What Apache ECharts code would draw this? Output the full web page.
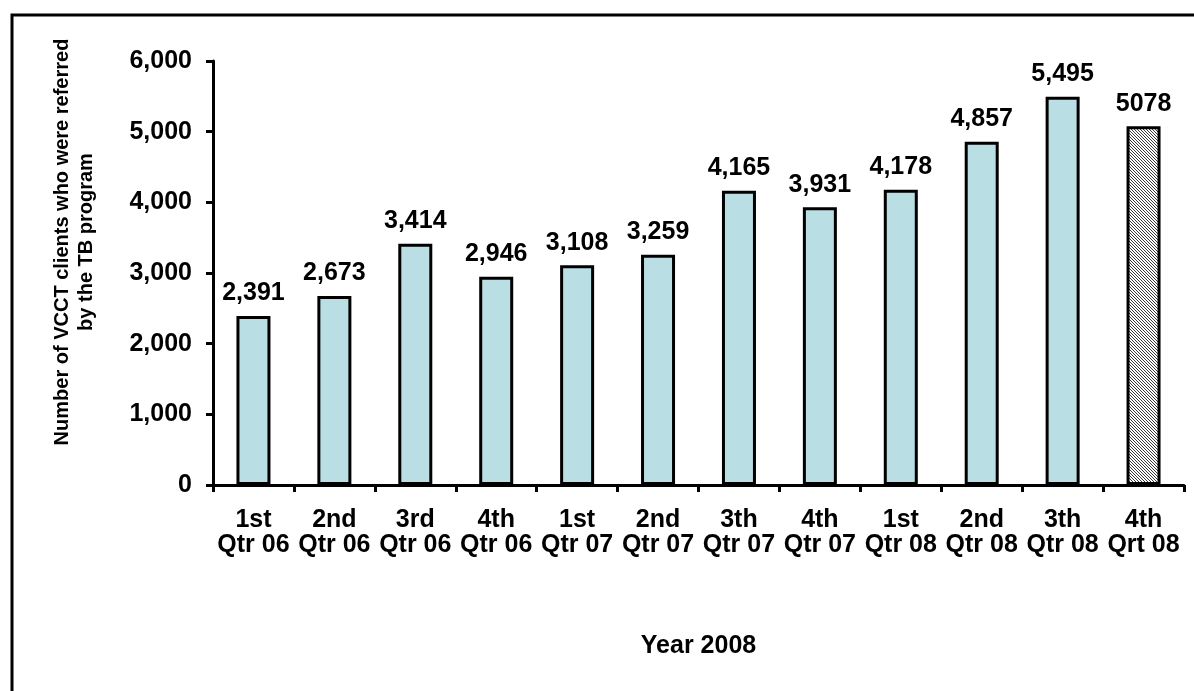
<!DOCTYPE html>
<html>
<head>
<meta charset="utf-8">
<style>
  html, body { margin: 0; padding: 0; background: #fff; }
  #chart { width: 1194px; height: 691px; }
</style>
<script src="https://cdn.jsdelivr.net/npm/echarts@6/dist/echarts.min.js"></script>
</head>
<body>
<div id="chart"></div>
<script>
// Quarterly counts of VCCT clients referred by the TB program
const quarters = ['1st\nQtr 06', '2nd\nQtr 06', '3rd\nQtr 06', '4th\nQtr 06',
                  '1st\nQtr 07', '2nd\nQtr 07', '3th\nQtr 07', '4th\nQtr 07',
                  '1st\nQtr 08', '2nd\nQtr 08', '3th\nQtr 08', '4th\nQrt 08'];
const referrals = [2391, 2673, 3414, 2946, 3108, 3259, 4165, 3931, 4178, 4857, 5495, 5078];
// The last quarter is shown hatched and its value without a thousands separator
const hatchedIndex = 11;
const yTicks = { min: 0, max: 6000, interval: 1000 };

const FONT = "'Liberation Sans', Arial, sans-serif";

// Diagonal hatch pattern for the last bar
function hatchPattern() {
  const c = document.createElement('canvas');
  c.width = 3; c.height = 3;
  const g = c.getContext('2d');
  g.fillStyle = '#ffffff';
  g.fillRect(0, 0, 3, 3);
  g.fillStyle = '#3a3a3a';
  g.fillRect(0, 0, 1, 1);
  g.fillRect(1, 1, 1, 1);
  g.fillRect(2, 2, 1, 1);
  return c;
}

const fmt = (v, i) => i === hatchedIndex ? String(v) : v.toLocaleString('en-US');

const barData = referrals.map((v, i) => i === hatchedIndex
  ? { value: v, itemStyle: { color: { image: hatchPattern(), repeat: 'repeat' } } }
  : v);

const chart = echarts.init(document.getElementById('chart'), null, { renderer: 'canvas' });
chart.setOption({
  animation: false,
  backgroundColor: '#ffffff',
  textStyle: { fontFamily: FONT },
  grid: { left: 213, right: 10, top: 61, bottom: 206, containLabel: false },
  xAxis: {
    type: 'category',
    data: quarters,
    name: 'Year 2008',
    nameLocation: 'middle',
    nameGap: 149,
    nameTextStyle: { fontFamily: FONT, fontWeight: 'bold', fontSize: 25, color: '#000' },
    axisLine: { lineStyle: { color: '#000', width: 3 } },
    axisTick: { show: true, inside: false, length: 7, alignWithLabel: false, lineStyle: { color: '#000', width: 3 } },
    axisLabel: { interval: 0, margin: 23, color: '#000', fontFamily: FONT, fontWeight: 'bold', fontSize: 25, lineHeight: 25 },
    splitLine: { show: false }
  },
  yAxis: {
    type: 'value',
    min: yTicks.min, max: yTicks.max, interval: yTicks.interval,
    axisLine: { show: true, lineStyle: { color: '#000', width: 3 } },
    axisTick: { show: true, inside: false, length: 7, lineStyle: { color: '#000', width: 3 } },
    axisLabel: { margin: 21, color: '#000', fontFamily: FONT, fontWeight: 'bold', fontSize: 25,
                 formatter: v => v.toLocaleString('en-US') },
    splitLine: { show: false }
  },
  series: [{
    type: 'bar',
    data: barData,
    barWidth: 34,
    itemStyle: { color: '#B9DFE4', borderColor: '#000', borderWidth: 3 },
    label: {
      show: true, position: 'top', distance: 10,
      color: '#000', fontFamily: FONT, fontWeight: 'bold', fontSize: 25,
      formatter: p => fmt(p.value, p.dataIndex)
    }
  }],
  graphic: [
    {
      type: 'polyline',
      shape: { points: [[12, 700], [12, 15], [1200, 15]] },
      style: { stroke: '#000', lineWidth: 3, fill: null }
    },
    {
      type: 'text',
      x: 74, y: 242,
      rotation: Math.PI / 2,
      style: {
        text: 'Number of VCCT clients who were referred\nby the TB program',
        font: "bold 20px 'Liberation Sans', Arial, sans-serif",
        fill: '#000',
        align: 'center',
        verticalAlign: 'middle',
        lineHeight: 24
      }
    }
  ]
});
</script>
</body>
</html>
